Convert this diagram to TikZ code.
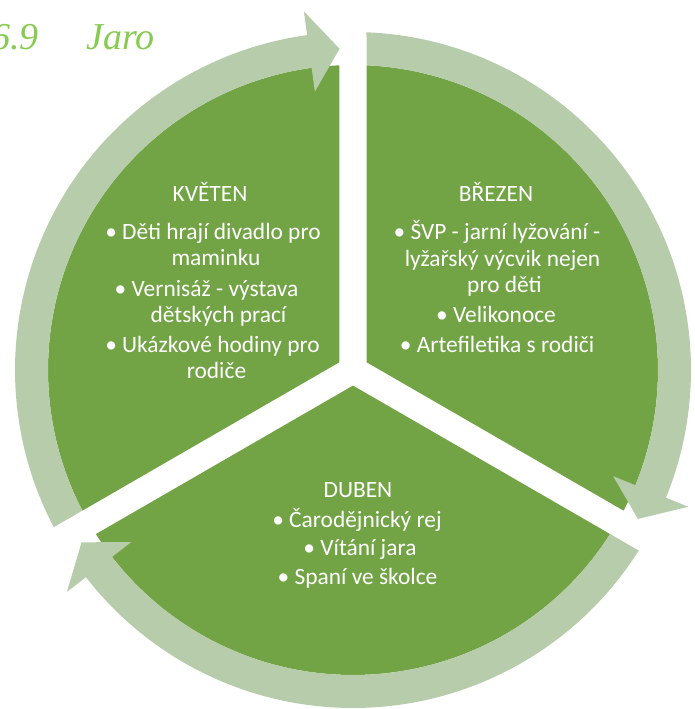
\documentclass[tikz,border=0pt]{standalone}
\usepackage{fontspec}
\newfontfamily\carlito{Carlito}
\newfontfamily\titlefont{Liberation Serif}
\definecolor{pgreen}{RGB}{114,164,70}
\definecolor{plight}{RGB}{183,204,171}
\definecolor{ptitle}{RGB}{135,203,80}
\newcommand\cyclearrow[2]{%
  \fill[ringarrow] ({#1-2.29}:338pt) arc[start angle={#1-2.29}, end angle={#2+7.8}, radius=338pt]
    -- ({#2+7.8}:362pt) -- ({#2+2.4}:321.5pt) -- ({#2+7.8}:281pt) -- ({#2+7.8}:305pt)
    arc[start angle={#2+7.8}, end angle={#1-2.54}, radius=305pt] -- cycle;}
\begin{document}
\begin{tikzpicture}[
  sector/.style={fill=pgreen},
  ringarrow/.style={fill=plight},
  lbl/.style={text=white, font=\carlito\fontsize{23.4}{28}\selectfont, anchor=base, inner sep=0pt},
  ttl/.style={text=ptitle, font=\titlefont\itshape\fontsize{38}{42}\selectfont, anchor=base west, inner sep=0pt}]
\useasboundingbox (-353pt,-339pt) rectangle (342pt,370pt);
% sectors
\fill[sector] (150:15.59pt) -- (92.54:305pt) arc[start angle=92.54, end angle=207.46, radius=305pt] -- cycle;
\fill[sector] (30:15.59pt) -- (-27.46:305pt) arc[start angle=-27.46, end angle=87.46, radius=305pt] -- cycle;
\fill[sector] (270:15.59pt) -- (212.54:305pt) arc[start angle=212.54, end angle=327.46, radius=305pt] -- cycle;
% circular arrows
\cyclearrow{210}{90}
\cyclearrow{90}{-30}
\cyclearrow{-30}{-150}
% title
\node[ttl] (title) at (-362pt,320pt) {\makebox[95pt][l]{6.9}Jaro};
% KVETEN
\node[lbl] (kt) at (-143pt,168pt) {KVĚTEN};
\node[lbl] (k1) at (-140pt,130pt) {• Děti hrají divadlo pro};
\node[lbl] (k2) at (-137pt,104pt) {maminku};
\node[lbl] (k3) at (-146.5pt,73pt) {• Vernisáž - výstava};
\node[lbl] (k4) at (-134.5pt,47pt) {dětských prací};
\node[lbl] (k5) at (-140.5pt,17pt) {• Ukázkové hodiny pro};
\node[lbl] (k6) at (-136.5pt,-9pt) {rodiče};
% BREZEN
\node[lbl] (bt) at (143pt,168pt) {BŘEZEN};
\node[lbl] (b1) at (144pt,130pt) {• ŠVP - jarní lyžování -};
\node[lbl] (b2) at (149.5pt,103.5pt) {lyžařský výcvik nejen};
\node[lbl] (b3) at (151.5pt,77pt) {pro děti};
\node[lbl] (b4) at (143pt,47pt) {• Velikonoce};
\node[lbl] (b5) at (144pt,17pt) {• Artefiletika s rodiči};
% DUBEN
\node[lbl] (dt) at (5pt,-127pt) {DUBEN};
\node[lbl] (d1) at (4pt,-157pt) {• Čarodějnický rej};
\node[lbl] (d2) at (7pt,-185pt) {• Vítání jara};
\node[lbl] (d3) at (4.5pt,-214pt) {• Spaní ve školce};
\end{tikzpicture}
\end{document}
